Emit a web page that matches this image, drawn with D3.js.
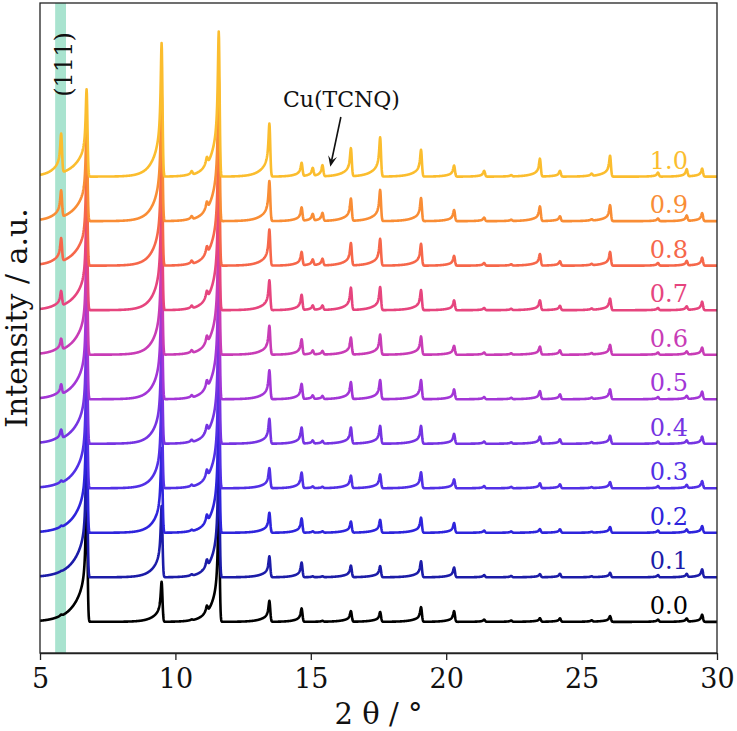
<!DOCTYPE html>
<html>
<head>
<meta charset="utf-8">
<script src="https://cdn.jsdelivr.net/npm/d3@7"></script>
<style>
  html, body { margin: 0; padding: 0; background: #ffffff; }
  svg { display: block; }
  text { font-family: "DejaVu Serif", serif; }
</style>
</head>
<body>
<svg id="chart" width="737" height="731"></svg>
<script>
// ---------------- data ----------------
const xTicks = [5, 10, 15, 20, 25, 30];
const seriesLabels = ["0.0", "0.1", "0.2", "0.3", "0.4", "0.5", "0.6", "0.7", "0.8", "0.9", "1.0"];
const seriesOffsets = [0, 1, 2, 3, 4, 5, 6, 7, 8, 9, 10];
const seriesColors = ["#000000", "#1c1ca8", "#2e24dc", "#5230e6", "#7634e2", "#a336d6",
                      "#c83cb6", "#e6457e", "#f6674a", "#f98d35", "#fbbd2e"];

// reflection positions (2θ, degrees)
const peakPositions = [5.78, 6.72, 9.49, 10.6, 11.16, 11.6, 13.47, 14.66, 15.07, 15.43, 16.48,
                       17.56, 19.07, 20.29, 21.4, 22.4, 23.46, 24.2, 25.37, 26.05, 27.82, 28.88, 29.45];
// low-angle tail length of each reflection (degrees)
const peakTails = [0.3, 0.45, 0.3, 0.2, 0.1, 0.3, 0.3, 0.25, 0.2, 0.2, 0.3,
                   0.3, 0.3, 0.25, 0.2, 0.2, 0.3, 0.25, 0.2, 0.3, 0.2, 0.2, 0.25];

// peak intensities (a.u.) of each sample, same order as peakPositions
const s00 = [0.03, 3.0, 0.9, 0.02, 0.14, 2.6, 0.47, 0.30, 0.00, 0.02, 0.24, 0.22, 0.33, 0.24, 0.05, 0.03, 0.08, 0.08, 0.03, 0.13, 0.05, 0.07, 0.16];
const s01 = [0.01, 3.0, 1.6, 0.03, 0.16, 2.8, 0.47, 0.33, 0.02, 0.02, 0.26, 0.25, 0.36, 0.22, 0.05, 0.03, 0.07, 0.08, 0.02, 0.10, 0.05, 0.07, 0.18];
const s02 = [0.03, 2.9, 1.9, 0.03, 0.16, 2.9, 0.45, 0.32, 0.03, 0.03, 0.25, 0.29, 0.34, 0.22, 0.05, 0.03, 0.08, 0.08, 0.02, 0.13, 0.05, 0.07, 0.15];
const s03 = [0.05, 2.8, 2.1, 0.04, 0.16, 3.0, 0.45, 0.35, 0.04, 0.03, 0.28, 0.31, 0.36, 0.20, 0.05, 0.03, 0.11, 0.09, 0.02, 0.14, 0.05, 0.07, 0.16];
const s04 = [0.20, 2.7, 2.3, 0.05, 0.16, 3.0, 0.56, 0.36, 0.07, 0.06, 0.36, 0.40, 0.40, 0.22, 0.05, 0.03, 0.16, 0.10, 0.03, 0.18, 0.05, 0.07, 0.16];
const s05 = [0.22, 2.6, 2.5, 0.05, 0.16, 3.1, 0.65, 0.34, 0.08, 0.07, 0.38, 0.43, 0.43, 0.22, 0.05, 0.03, 0.18, 0.11, 0.03, 0.22, 0.05, 0.07, 0.17];
const s06 = [0.25, 2.5, 2.6, 0.06, 0.16, 3.1, 0.65, 0.34, 0.09, 0.08, 0.38, 0.45, 0.41, 0.20, 0.05, 0.03, 0.18, 0.10, 0.03, 0.22, 0.05, 0.07, 0.16];
const s07 = [0.33, 2.3, 2.7, 0.06, 0.16, 3.2, 0.67, 0.34, 0.10, 0.10, 0.50, 0.52, 0.45, 0.22, 0.05, 0.03, 0.22, 0.10, 0.03, 0.26, 0.05, 0.08, 0.19];
const s08 = [0.52, 2.2, 2.8, 0.07, 0.16, 3.2, 0.81, 0.30, 0.13, 0.15, 0.50, 0.60, 0.49, 0.22, 0.06, 0.03, 0.26, 0.10, 0.03, 0.31, 0.06, 0.10, 0.18];
const s09 = [0.60, 2.1, 2.9, 0.07, 0.16, 3.25, 0.90, 0.30, 0.15, 0.18, 0.50, 0.70, 0.52, 0.25, 0.08, 0.03, 0.33, 0.11, 0.03, 0.36, 0.06, 0.12, 0.18];
const s10 = [0.88, 1.96, 3.0, 0.08, 0.16, 3.26, 1.19, 0.30, 0.18, 0.25, 0.63, 0.88, 0.60, 0.25, 0.13, 0.03, 0.40, 0.13, 0.05, 0.47, 0.09, 0.16, 0.18];
const seriesIntensities = [s00, s01, s02, s03, s04, s05, s06, s07, s08, s09, s10];

// ---------------- layout ----------------
const svg = d3.select("#chart");
const pL = 40, pR = 717, pT = 3, pB = 653;
const x = d3.scaleLinear().domain([5, 30]).range([pL, pR]);
const y = d3.scaleLinear().domain([-0.7, 13.9]).range([pB, pT]);

// peak profile: sharp top, long tail to low angle, steep high-angle side
function profile(d, tail) {
  if (d < 0) {
    const w = 0.04;
    return 0.65 / (1 + (d / w) * (d / w)) + 0.35 * Math.exp(d / tail);
  }
  const wr = 0.045;
  return Math.exp(-(d / wr) * (d / wr));
}

// sample grid (includes the peak centres)
const grid = d3.range(5, 30.0001, 0.01).concat(peakPositions).sort((a, b) => a - b);

function pattern(intens, offset) {
  return grid.map(t => {
    let v = 0;
    for (let k = 0; k < peakPositions.length; k++) {
      const h = intens[k];
      if (h === 0) continue;
      v += h * profile(t - peakPositions[k], peakTails[k]);
    }
    return [t, offset + v];
  });
}

svg.append("defs").append("clipPath").attr("id", "plotClip")
  .append("rect").attr("x", pL).attr("y", pT).attr("width", pR - pL).attr("height", pB - pT);

// (111) highlight band
svg.append("rect")
  .attr("x", x(5.56)).attr("y", pT)
  .attr("width", x(5.96) - x(5.56)).attr("height", pB - pT)
  .attr("fill", "#a9e3cf");

const line = d3.line().x(d => x(d[0])).y(d => y(d[1]));

const gLines = svg.append("g").attr("clip-path", "url(#plotClip)");
seriesIntensities.forEach((intens, i) => {
  gLines.append("path")
    .datum(pattern(intens, seriesOffsets[i]))
    .attr("d", line)
    .attr("fill", "none")
    .attr("stroke", seriesColors[i])
    .attr("stroke-width", 2.6)
    .attr("stroke-linejoin", "round");
});

// series labels
seriesLabels.forEach((lab, i) => {
  svg.append("text")
    .attr("x", x(28.93)).attr("y", y(seriesOffsets[i]) - 8)
    .attr("text-anchor", "end")
    .attr("font-size", 24)
    .attr("fill", seriesColors[i])
    .text(lab);
});

// frame
svg.append("rect")
  .attr("x", pL).attr("y", pT).attr("width", pR - pL).attr("height", pB - pT)
  .attr("fill", "none").attr("stroke", "#222").attr("stroke-width", 1.3);

// x axis
const xAxis = svg.append("g").attr("transform", `translate(0,${pB})`)
  .call(d3.axisBottom(x).tickValues(xTicks).tickSize(7).tickSizeOuter(0).tickFormat(d3.format("d")));
xAxis.select(".domain").attr("stroke", "#222").attr("stroke-width", 1.3);
xAxis.selectAll(".tick line").attr("stroke", "#222").attr("stroke-width", 1.3);
xAxis.selectAll(".tick text")
  .attr("y", 35).attr("dy", 0)
  .attr("font-family", "DejaVu Serif, serif")
  .attr("font-size", 27).attr("fill", "#111");

// axis titles
svg.append("text")
  .attr("x", (pL + pR) / 2).attr("y", 724)
  .attr("text-anchor", "middle").attr("font-size", 29).attr("fill", "#111")
  .text("2 θ / °");
svg.append("text")
  .attr("transform", `translate(27,${(pT + pB) / 2 - 10}) rotate(-90)`)
  .attr("text-anchor", "middle").attr("font-size", 30).attr("fill", "#111")
  .text("Intensity / a.u.");

// annotations
svg.append("text")
  .attr("transform", `translate(72,64.5) rotate(-90)`)
  .attr("text-anchor", "middle").attr("font-size", 24).attr("fill", "#111")
  .text("(111)");

svg.append("text")
  .attr("x", x(13.97)).attr("y", y(11.56))
  .attr("font-size", 22).attr("fill", "#111")
  .text("Cu(TCNQ)");

const ax0 = x(16.11), ay0 = y(11.34), ax1 = x(15.72), ay1 = y(10.22);
const ang = Math.atan2(ay1 - ay0, ax1 - ax0);
const hl = 11, hw = 4.5;
svg.append("line")
  .attr("x1", ax0).attr("y1", ay0)
  .attr("x2", ax1 - Math.cos(ang) * 6).attr("y2", ay1 - Math.sin(ang) * 6)
  .attr("stroke", "#111").attr("stroke-width", 1.6);
svg.append("path")
  .attr("d", `M${ax1},${ay1}
    L${ax1 - hl * Math.cos(ang) + hw * Math.sin(ang)},${ay1 - hl * Math.sin(ang) - hw * Math.cos(ang)}
    L${ax1 - 0.6 * hl * Math.cos(ang)},${ay1 - 0.6 * hl * Math.sin(ang)}
    L${ax1 - hl * Math.cos(ang) - hw * Math.sin(ang)},${ay1 - hl * Math.sin(ang) + hw * Math.cos(ang)}Z`)
  .attr("fill", "#111");
</script>
</body>
</html>
